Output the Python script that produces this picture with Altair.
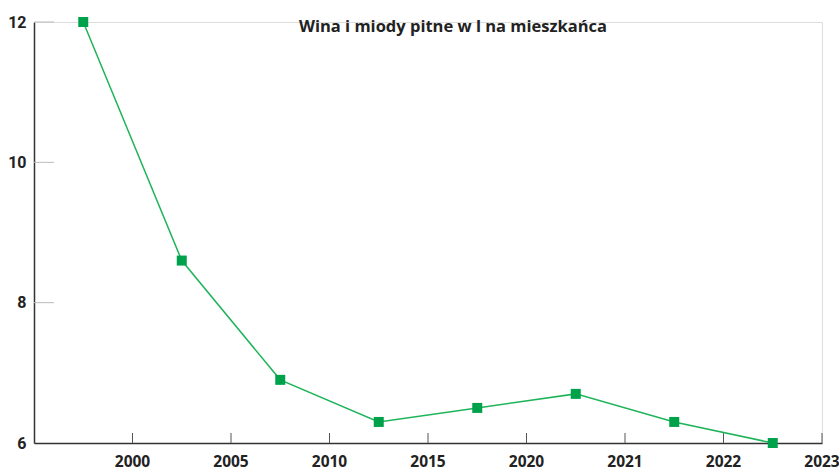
import altair as alt
import pandas as pd

years = ["2000", "2005", "2010", "2015", "2020", "2021", "2022", "2023"]
values = [12.0, 8.6, 6.9, 6.3, 6.5, 6.7, 6.3, 6.0]
y_ticks = [6, 8, 10, 12]
title_text = "Wina i miody pitne w l na mieszkańca"

df = pd.DataFrame({"year": years, "value": values})
ytick_df = pd.DataFrame({"value": y_ticks[1:]})
title_df = pd.DataFrame({"label": [title_text]})

W, H = 788, 421
BAND = W / len(years)

xscale = alt.Scale(type="band", paddingInner=0, paddingOuter=0)
yscale = alt.Scale(domain=[6, 12], nice=False, zero=False)

x_axis = alt.Axis(labelAngle=0, ticks=False, grid=False,
                  domainColor="#333333", domainWidth=1.5, labelFont="Open Sans",
                  labelFontSize=15.5, labelFontWeight="bold", labelColor="#222222",
                  labelPadding=11, labelAlign="center", labelOffset=BAND / 2,
                  labelOverlap=False, labelBound=False, title=None)
y_axis = alt.Axis(values=y_ticks, ticks=False, grid=False, domainColor="#333333",
                  domainWidth=1.5, labelFont="Roboto", labelFontSize=16,
                  labelFontWeight="bold", labelColor="#222222", labelPadding=8,
                  title=None)

x_main = alt.X("year:N", sort=years, scale=xscale, axis=x_axis)
y_main = alt.Y("value:Q", scale=yscale, axis=y_axis)

base = alt.Chart(df)
line = base.mark_line(color="#1fb45a", strokeWidth=1.5).encode(x=x_main, y=y_main)
pts = base.mark_square(color="#00a14b", size=100, opacity=1).encode(x=x_main, y=y_main)

xticks = base.mark_rule(color="#555555", strokeWidth=1).encode(
    x=alt.X("year:N", sort=years, scale=xscale, bandPosition=1, axis=x_axis),
    y=alt.value(H - 10), y2=alt.value(H),
)
yticks = alt.Chart(ytick_df).mark_rule(color="#bbbbbb", strokeWidth=1).encode(
    y=alt.Y("value:Q", scale=yscale, axis=y_axis),
    x=alt.value(0), x2=alt.value(20),
)
title = alt.Chart(title_df).mark_text(
    font="Open Sans", fontSize=16.5, fontWeight="bold", color="#222222",
    align="center", baseline="alphabetic",
).encode(text="label:N", x=alt.value(419), y=alt.value(10))

chart = alt.layer(yticks, xticks, line, pts, title).properties(
    width=W, height=H,
    autosize=alt.AutoSizeParams(type="none"),
    padding={"left": 34, "top": 22, "right": 17, "bottom": 27},
).configure_view(stroke=None).configure(background="white")

chart.save("out.html", embed_options={"renderer": "svg", "actions": False})
